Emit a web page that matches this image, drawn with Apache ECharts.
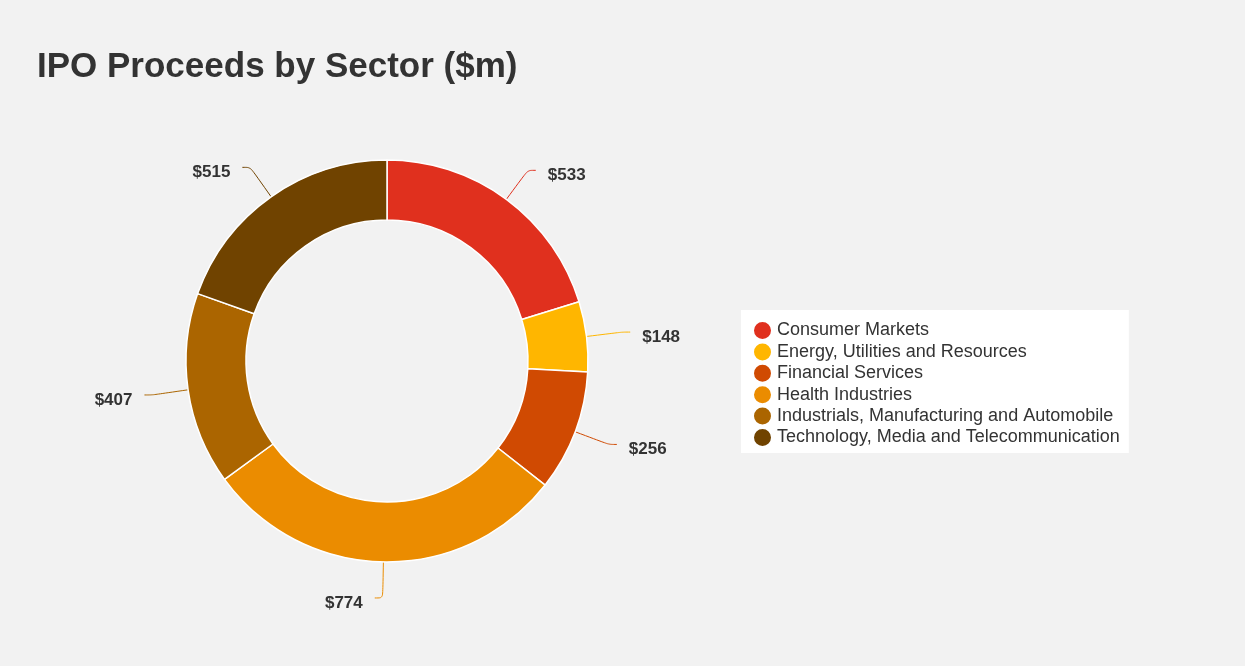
<!DOCTYPE html>
<html>
<head>
<meta charset="utf-8">
<script src="https://cdn.jsdelivr.net/npm/echarts@6/dist/echarts.min.js"></script>
<style>
  html, body { margin: 0; padding: 0; background: #f2f2f2; }
  #main { width: 1245px; height: 666px; }
</style>
</head>
<body>
<div id="main"></div>
<script>
// sectors and proceeds ($m)
var sectors = [
    'Consumer Markets',
    'Energy, Utilities and Resources',
    'Financial Services',
    'Health Industries',
    'Industrials, Manufacturing and Automobile',
    'Technology, Media and Telecommunication'
];
var proceeds = [533, 148, 256, 774, 407, 515];
var colors = ['#e0301e', '#ffb600', '#d04a02', '#eb8c00', '#ab6500', '#704300'];

var chart = echarts.init(document.getElementById('main'));

var pieData = sectors.map(function (name, i) {
    return { name: name, value: proceeds[i] };
});

var option = {
    backgroundColor: '#f2f2f2',
    color: colors,
    title: {
        text: 'IPO Proceeds by Sector ($m)',
        left: 32,
        top: 45,
        textStyle: {
            fontFamily: 'Liberation Sans',
            fontSize: 35,
            fontWeight: 'bold',
            color: '#333333'
        }
    },
    legend: {
        orient: 'vertical',
        left: 741,
        top: 310,
        backgroundColor: '#ffffff',
        padding: [10, 9, 5, 11],
        icon: 'circle',
        itemWidth: 19,
        itemHeight: 19,
        itemGap: 0.4,
        textStyle: {
            fontFamily: 'Liberation Sans',
            fontSize: 18,
            lineHeight: 19,
            color: '#333333'
        },
        data: sectors
    },
    series: [{
        type: 'pie',
        center: [387, 361],
        radius: [141, 201],
        startAngle: 90,
        clockwise: true,
        avoidLabelOverlap: false,
        itemStyle: {
            borderColor: '#ffffff',
            borderWidth: 1.5
        },
        label: {
            formatter: function (p) { return '$' + p.value; },
            fontFamily: 'Liberation Sans',
            fontSize: 17,
            fontWeight: 'bold',
            color: '#333333',
            distanceToLabelLine: 12
        },
        labelLayout: { dy: 5 },
        labelLine: {
            length: 36,
            length2: 8,
            smooth: true,
            lineStyle: { width: 1 }
        },
        emphasis: { disabled: true },
        data: pieData
    }]
};

chart.setOption(option);
</script>
</body>
</html>
